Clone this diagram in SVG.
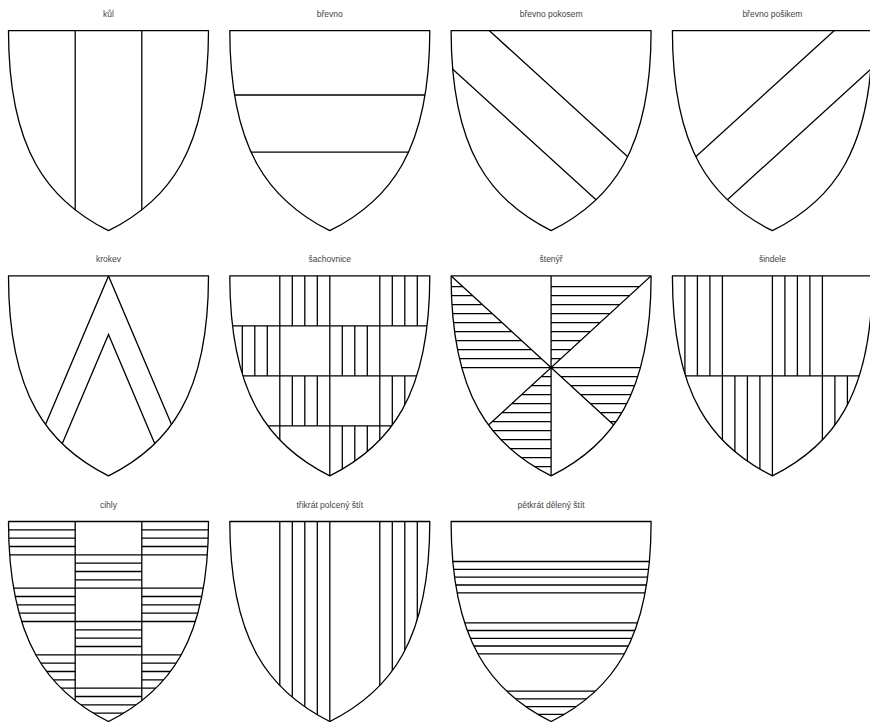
<svg xmlns="http://www.w3.org/2000/svg" xmlns:xlink="http://www.w3.org/1999/xlink" width="870" height="722" viewBox="0 0 870 722">
<style>
  .label { font-family: "Liberation Sans", Arial, sans-serif; font-size: 8.5px; fill: #444; text-anchor: middle; }
  .outline { fill: none; stroke: #000; stroke-width: 1.3; stroke-linejoin: round; }
  .l { fill: none; stroke: #000; stroke-width: 1.3; }
</style>
<defs>
  <path id="shape" d="M0,0 H200 C200,120 160,170 100,200 C40,170 0,120 0,0 Z"/>
  <clipPath id="clip"><path d="M0,0 H200 C200,120 160,170 100,200 C40,170 0,120 0,0 Z"/></clipPath>
</defs>
<rect width="870" height="722" fill="#fff"/>

<g id="kul" transform="translate(8.5,30.7)">
  <text class="label" x="100" y="-14">kůl</text>
  <g clip-path="url(#clip)"><path class="l" d="M66.7,0 V200 M133.3,0 V200"/></g>
  <use href="#shape" class="outline"/>
</g>

<g id="brevno" transform="translate(229.8,30.7)">
  <text class="label" x="100" y="-14">břevno</text>
  <g clip-path="url(#clip)"><path class="l" d="M0,64.3 H200 M0,121.5 H200"/></g>
  <use href="#shape" class="outline"/>
</g>

<g id="brevno-pokosem" transform="translate(451.1,30.7)">
  <text class="label" x="100" y="-14">břevno pokosem</text>
  <g clip-path="url(#clip)"><path class="l" d="M-1.7,-36.4 L238.3,182.2 M-20,18.8 L220,237.4"/></g>
  <use href="#shape" class="outline"/>
</g>

<g id="brevno-posikem" transform="translate(672.4,30.7)">
  <text class="label" x="100" y="-14">břevno pošikem</text>
  <g clip-path="url(#clip)"><path class="l" d="M201.7,-36.4 L-38.3,182.2 M220,18.8 L-20,237.4"/></g>
  <use href="#shape" class="outline"/>
</g>

<g id="krokev" transform="translate(8.5,275.9)">
  <text class="label" x="100" y="-14">krokev</text>
  <g clip-path="url(#clip)"><path class="l" d="M-6,250 L100,0 L206,250 M18.9,250 L100,58.6 L181.1,250"/></g>
  <use href="#shape" class="outline"/>
</g>

<g id="sachovnice" transform="translate(229.8,275.9)">
  <text class="label" x="100" y="-14">šachovnice</text>
  <g clip-path="url(#clip)"><path class="l" d="M50,0 V200 M100,0 V200 M150,0 V200 M0,50 H200 M0,100 H200 M0,150 H200
    M62.5,0 V50 M75,0 V50 M87.5,0 V50 M162.5,0 V50 M175,0 V50 M187.5,0 V50
    M12.5,50 V100 M25,50 V100 M37.5,50 V100 M112.5,50 V100 M125,50 V100 M137.5,50 V100
    M62.5,100 V150 M75,100 V150 M87.5,100 V150 M162.5,100 V150 M175,100 V150 M187.5,100 V150
    M12.5,150 V200 M25,150 V200 M37.5,150 V200 M112.5,150 V200 M125,150 V200 M137.5,150 V200"/></g>
  <use href="#shape" class="outline"/>
</g>

<g id="stenyr" transform="translate(451.1,275.9)">
  <text class="label" x="100" y="-14">štenýř</text>
  <g clip-path="url(#clip)"><path class="l" d="M0,0 L200,183.4 M200,0 L0,183.4 M100,0 V200 M-5,91.7 H205
    M100,82.7 H109.8 M100,73.7 H119.6 M100,64.7 H129.4 M100,55.7 H139.3 M100,46.7 H149.1 M100,37.7 H158.9 M100,28.7 H168.7 M100,19.7 H178.5 M100,10.7 H188.3
    M-5,82.7 H90.2 M-5,73.7 H80.4 M-5,64.7 H70.6 M-5,55.7 H60.7 M-5,46.7 H50.9 M-5,37.7 H41.1 M-5,28.7 H31.3 M-5,19.7 H21.5 M-5,10.7 H11.7
    M109.8,100.7 H205 M119.6,109.7 H205 M129.4,118.7 H205 M139.3,127.7 H205 M149.1,136.7 H205 M158.9,145.7 H205
    M90.2,100.7 H100 M80.4,109.7 H100 M70.6,118.7 H100 M60.7,127.7 H100 M50.9,136.7 H100 M41.1,145.7 H100 M31.3,154.7 H100 M21.5,163.7 H100 M11.7,172.7 H100 M1.9,181.7 H100 M-7.9,190.7 H100"/></g>
  <use href="#shape" class="outline"/>
</g>

<g id="sindele" transform="translate(672.4,275.9)">
  <text class="label" x="100" y="-14">šindele</text>
  <g clip-path="url(#clip)"><path class="l" d="M50,0 V200 M100,0 V200 M150,0 V200 M0,100 H200
    M12.5,0 V100 M25,0 V100 M37.5,0 V100 M112.5,0 V100 M125,0 V100 M137.5,0 V100
    M62.5,100 V200 M75,100 V200 M87.5,100 V200 M162.5,100 V200 M175,100 V200 M187.5,100 V200"/></g>
  <use href="#shape" class="outline"/>
</g>

<g id="cihly" transform="translate(8.5,521.5)">
  <text class="label" x="100" y="-14">cihly</text>
  <g clip-path="url(#clip)"><path class="l" d="M66.7,0 V200 M133.3,0 V200
    M0,33.3 H200 M0,66.7 H200 M0,100 H200 M0,133.3 H200 M0,166.7 H200
    M0,8.33 H66.7 M0,16.67 H66.7 M0,25 H66.7 M133.3,8.33 H200 M133.3,16.67 H200 M133.3,25 H200
    M66.7,41.67 H133.3 M66.7,50 H133.3 M66.7,58.33 H133.3
    M0,75 H66.7 M0,83.33 H66.7 M0,91.67 H66.7 M133.3,75 H200 M133.3,83.33 H200 M133.3,91.67 H200
    M66.7,108.33 H133.3 M66.7,116.67 H133.3 M66.7,125 H133.3
    M0,141.67 H66.7 M0,150 H66.7 M0,158.33 H66.7 M133.3,141.67 H200 M133.3,150 H200 M133.3,158.33 H200
    M66.7,175 H133.3 M66.7,183.33 H133.3 M66.7,191.67 H133.3"/></g>
  <use href="#shape" class="outline"/>
</g>

<g id="trikrat-polceny" transform="translate(229.8,521.5)">
  <text class="label" x="100" y="-14">třikrát polcený štít</text>
  <g clip-path="url(#clip)"><path class="l" d="M50,0 V200 M62.5,0 V200 M75,0 V200 M87.5,0 V200 M100,0 V200 M150,0 V200 M162.5,0 V200 M175,0 V200 M187.5,0 V200"/></g>
  <use href="#shape" class="outline"/>
</g>

<g id="petkrat-deleny" transform="translate(451.1,521.5)">
  <text class="label" x="100" y="-14">pětkrát dělený štít</text>
  <g clip-path="url(#clip)"><path class="l" d="M0,40 H200 M0,47.8 H200 M0,55.7 H200 M0,63.5 H200 M0,71.3 H200
    M0,101.3 H200 M0,109 H200 M0,116.8 H200 M0,124.5 H200 M0,132.3 H200
    M0,169.7 H200 M0,177.4 H200 M0,185.1 H200 M0,192.8 H200"/></g>
  <use href="#shape" class="outline"/>
</g>

<g id="connectors"/>
</svg>
